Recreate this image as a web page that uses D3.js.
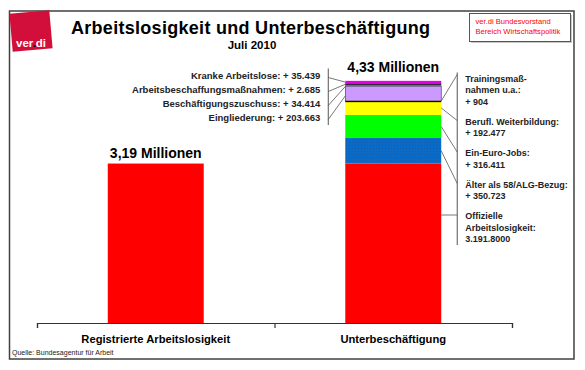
<html>
<head>
<meta charset="utf-8">
<script src="https://d3js.org/d3.v7.min.js"></script>
<style>
  body { margin: 0; background: #fff; }
  svg text { font-family: "Liberation Sans", Arial, sans-serif; }
</style>
</head>
<body>
<svg width="585" height="370"></svg>
<script>
// data
const categories = ["Registrierte Arbeitslosigkeit", "Unterbeschäftigung"];
const segments = ["Offizielle Arbeitslosigkeit", "Älter als 58/ALG-Bezug", "Ein-Euro-Jobs",
  "Berufl. Weiterbildung", "Trainingsmaßnahmen u.a.", "Eingliederung",
  "Beschäftigungszuschuss", "Arbeitsbeschaffungsmaßnahmen", "Kranke Arbeitslose"];
const registered = [3191800, 0, 0, 0, 0, 0, 0, 0, 0];
const underemployed = [3191800, 350723, 316411, 192477, 904, 203663, 34414, 2685, 35439];
const totalLabels = ["3,19 Millionen", "4,33 Millionen"];
const colors = ["#ff0000", "url(#dots)", "#00ff00", "#ffff00", "#000000", "#cc99ff", "#77778f", "#000000", "#e600e6"];

// labels left of the stacked bar (top to bottom)
const leftKeys = ["Kranke Arbeitslose", "Arbeitsbeschaffungsmaßnahmen", "Beschäftigungszuschuss", "Eingliederung"];
const leftLabels = ["Kranke Arbeitslose: + 35.439", "Arbeitsbeschaffungsmaßnahmen: + 2.685",
  "Beschäftigungszuschuss: + 34.414", "Eingliederung: + 203.663"];
// labels right of the stacked bar
const rightKeys = ["Trainingsmaßnahmen u.a.", "Berufl. Weiterbildung", "Ein-Euro-Jobs", "Älter als 58/ALG-Bezug", "Offizielle Arbeitslosigkeit"];
const rightLabels = [
  ["Trainingsmaß-", "nahmen u.a.:", "+ 904"],
  ["Berufl. Weiterbildung:", "+ 192.477"],
  ["Ein-Euro-Jobs:", "+ 316.411"],
  ["Älter als 58/ALG-Bezug:", "+ 350.723"],
  ["Offizielle", "Arbeitslosigkeit:", "3.191.8000"]
];

const svg = d3.select("svg");

const defs = svg.append("defs");
const pat = defs.append("pattern").attr("id", "dots").attr("width", 3).attr("height", 3)
  .attr("patternUnits", "userSpaceOnUse");
pat.append("rect").attr("width", 3).attr("height", 3).attr("fill", "#0a6ac8");
pat.append("rect").attr("x", 1).attr("y", 1).attr("width", 1).attr("height", 1).attr("fill", "#1f5a9a");

// frame
svg.append("rect").attr("x", 9.5).attr("y", 11).attr("width", 564.5).attr("height", 348)
  .attr("fill", "none").attr("stroke", "#404040").attr("stroke-width", 1.5);

// scales (value axis starts at 1 Mio. like the original)
const x = d3.scaleBand().domain(categories).range([37, 512]).paddingInner(0.596).paddingOuter(0.298);
const y = d3.scaleLinear().domain([1000000, 5000000]).range([323, 32]).clamp(true);

const rows = categories.map((c, ci) => {
  const r = { cat: c };
  segments.forEach((s, i) => { r[s] = ci === 0 ? registered[i] : underemployed[i]; });
  return r;
});
const stacked = d3.stack().keys(segments)(rows);

const g = svg.append("g");
stacked.forEach((layer, li) => {
  g.selectAll(null).data(layer.filter(d => d[1] > d[0])).enter().append("rect")
    .attr("x", d => x(d.data.cat))
    .attr("width", x.bandwidth())
    .attr("y", d => y(d[1]))
    .attr("height", d => Math.max(y(d[0]) - y(d[1]), colors[li] === "#000000" ? 1.2 : 0))
    .attr("fill", colors[li]);
});
// thin outline on lilac block
const lil = stacked[segments.indexOf("Eingliederung")][1];
g.append("rect").attr("x", x(categories[1])).attr("width", x.bandwidth())
  .attr("y", y(lil[1])).attr("height", y(lil[0]) - y(lil[1]))
  .attr("fill", "none").attr("stroke", "#333").attr("stroke-width", 0.6);

// totals
categories.forEach((c, i) => {
  const tot = d3.sum(i === 0 ? registered : underemployed);
  svg.append("text").attr("x", x(c) + x.bandwidth() / 2).attr("y", y(tot) - (i === 0 ? 6 : 8.5))
    .attr("text-anchor", "middle").attr("font-size", 14).attr("font-weight", "bold")
    .text(totalLabels[i]);
});

// axis with ticks at category boundaries
const xEdge = d3.scaleLinear().domain([0, categories.length]).range(x.range());
svg.append("g").attr("transform", "translate(0,323)")
  .call(d3.axisBottom(xEdge).tickValues(d3.range(categories.length + 1)).tickSize(5).tickFormat(""))
  .call(a => a.selectAll("path,line").attr("stroke", "#333").attr("stroke-width", 1.2));
categories.forEach(c => {
  svg.append("text").attr("x", x(c) + x.bandwidth() / 2).attr("y", 342.5)
    .attr("text-anchor", "middle").attr("font-size", 11.2).attr("font-weight", "bold").text(c);
});

// helper: y positions of a segment in the stacked bar
const bar2 = categories[1];
function segInfo(key) {
  const d = stacked[segments.indexOf(key)][1];
  return { top: y(d[1]), bottom: y(d[0]), mid: (y(d[0]) + y(d[1])) / 2 };
}

const lineCol = "#555";
// left annotations
const bx0 = x(bar2) - 17;
const leftBase = 78.5, leftStep = 14;
svg.append("line").attr("x1", bx0).attr("x2", bx0).attr("y1", leftBase - 10).attr("y2", leftBase + leftStep * 3 + 4.5)
  .attr("stroke", lineCol).attr("stroke-width", 1);
leftLabels.forEach((t, i) => {
  const by = leftBase + i * leftStep;
  svg.append("text").attr("x", bx0 - 8).attr("y", by).attr("text-anchor", "end")
    .attr("font-size", 9.5).attr("font-weight", "bold").attr("fill", "#222").text(t);
  const s = segInfo(leftKeys[i]);
  svg.append("line").attr("x1", bx0).attr("y1", by - 1).attr("x2", x(bar2)).attr("y2", s.mid + i * 0.8)
    .attr("stroke", lineCol).attr("stroke-width", 0.8);
});

// right annotations
const bx1 = x(bar2) + x.bandwidth() + 16;
let ly = 81.5;
const lh = 11.5, gap = 8.5;
const firstLines = [];
rightLabels.forEach(lines => {
  firstLines.push(ly);
  lines.forEach(t => {
    svg.append("text").attr("x", bx1 + 8).attr("y", ly).attr("font-size", 9)
      .attr("font-weight", "bold").attr("fill", "#222").text(t);
    ly += lh;
  });
  ly += gap;
});
svg.append("line").attr("x1", bx1).attr("x2", bx1).attr("y1", firstLines[0] - 9)
  .attr("y2", ly - gap - lh + 3).attr("stroke", lineCol).attr("stroke-width", 1);
rightKeys.forEach((k, i) => {
  const s = segInfo(k);
  const ty = firstLines[i] - 4;
  const ay = (ty > s.top && ty < s.bottom) ? ty : s.mid;
  svg.append("line").attr("x1", x(bar2) + x.bandwidth()).attr("y1", ay).attr("x2", bx1).attr("y2", ty - (i === 0 ? 3 : 0))
    .attr("stroke", lineCol).attr("stroke-width", 0.8);
});

// title
svg.append("text").attr("x", 71).attr("y", 34).attr("font-size", 18).attr("font-weight", "bold")
  .attr("textLength", 359).attr("lengthAdjust", "spacing")
  .text("Arbeitslosigkeit und Unterbeschäftigung");
svg.append("text").attr("x", 252).attr("y", 49).attr("text-anchor", "middle")
  .attr("font-size", 11.5).attr("font-weight", "bold").text("Juli 2010");

// red info box
svg.append("rect").attr("x", 471).attr("y", 15).attr("width", 101).attr("height", 28).attr("fill", "#c8c8c8");
svg.append("rect").attr("x", 469.5).attr("y", 13.5).attr("width", 101).attr("height", 28)
  .attr("fill", "#fff").attr("stroke", "#555").attr("stroke-width", 1);
svg.append("text").attr("x", 475.5).attr("y", 24).attr("font-size", 7.6).attr("fill", "#ff0000")
  .text("ver.di Bundesvorstand");
svg.append("text").attr("x", 475.5).attr("y", 33.5).attr("font-size", 7.6).attr("fill", "#ff0000")
  .text("Bereich Wirtschaftspolitik");

// logo
const logo = svg.append("g");
logo.append("rect").attr("x", 11).attr("y", 12).attr("width", 40).attr("height", 38)
  .attr("transform", "rotate(-5 31 31)").attr("fill", "#d10f3a");
const lt = logo.append("text").attr("x", 16).attr("y", 47).attr("font-size", 11.5).attr("font-weight", "bold")
  .attr("fill", "#fff");
lt.append("tspan").text("ver");
lt.append("tspan").attr("fill", "#000").text(".");
lt.append("tspan").text("di");

// source
svg.append("text").attr("x", 12).attr("y", 354.5).attr("font-size", 7).attr("fill", "#222")
  .text("Quelle: Bundesagentur für Arbeit");
</script>
</body>
</html>
